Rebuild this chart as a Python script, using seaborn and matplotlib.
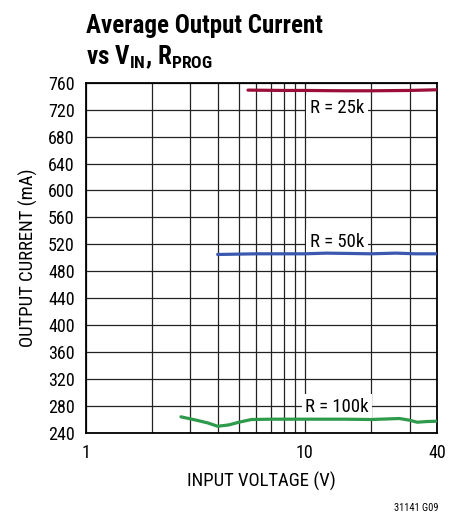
import numpy as np
import pandas as pd
import matplotlib
matplotlib.use("Agg")
import matplotlib.pyplot as plt
import seaborn as sns

# datos
v_25k = [5.5, 8, 10, 15, 20, 30, 40]
i_25k = [749, 748.5, 748.5, 748, 748, 748.5, 749.5]

v_50k = [4.0, 6, 8, 10, 12.5, 16, 20, 26, 32, 40]
i_50k = [505, 506, 506, 506, 507, 506.5, 506, 507, 506, 506]

v_100k = [2.72, 3.2, 3.6, 4.0, 4.5, 5.0, 5.7, 7, 10, 15, 20, 27, 30, 32.5, 36, 40]
i_100k = [264, 259, 255, 250, 252, 256, 260, 260.5, 260.5, 260.5, 260, 261.5, 259, 256, 257, 257.5]

series_names = ["R = 25k", "R = 50k", "R = 100k"]
series_colors = ["#9b0e3a", "#3a58b0", "#2e9a4c"]
label_pos = [(14, 723), (14, 523), (14, 279)]

y_ticks = list(range(240, 761, 40))
x_ticks = [1, 10, 40]

sns.set_style("white")
fams = ["Roboto Condensed", "Liberation Sans Narrow", "Liberation Sans", "DejaVu Sans"]
plt.rcParams["font.family"] = fams
plt.rcParams["mathtext.fontset"] = "custom"
plt.rcParams["mathtext.bf"] = "Roboto Condensed:bold"
plt.rcParams["mathtext.rm"] = "Roboto Condensed:bold"
for k in ["text.color", "axes.labelcolor", "xtick.color", "ytick.color"]:
    plt.rcParams[k] = "black"

df = pd.concat([
    pd.DataFrame({"V": v_25k, "I": i_25k, "R": series_names[0]}),
    pd.DataFrame({"V": v_50k, "I": i_50k, "R": series_names[1]}),
    pd.DataFrame({"V": v_100k, "I": i_100k, "R": series_names[2]}),
])

fig = plt.figure(figsize=(4.57, 5.14), dpi=100)
ax = fig.add_axes([0.1875, 0.1576, 0.7685, 0.6815])

for name, col in zip(series_names, series_colors):
    d = df[df["R"] == name]
    sns.lineplot(data=d, x="V", y="I", color=col, linewidth=2.3, ax=ax, zorder=3, sort=False)

ax.set_xscale("log")
ax.set_xlim(1, 40)
ax.set_ylim(240, 760)
ax.set_yticks(y_ticks)
ax.set_xticks(x_ticks)
ax.set_xticklabels([str(t) for t in x_ticks])
ax.xaxis.set_minor_formatter(matplotlib.ticker.NullFormatter())
ax.grid(True, which="both", axis="x", color="#222222", linewidth=0.9)
ax.grid(True, which="major", axis="y", color="#222222", linewidth=0.9)
ax.tick_params(axis="both", which="both", length=0, labelsize=13)
ax.tick_params(axis="y", pad=8)
ax.tick_params(axis="x", pad=8)
for s in ax.spines.values():
    s.set_color("black")
    s.set_linewidth(1.3)

ax.set_xlabel("INPUT VOLTAGE (V)", fontsize=13.5, labelpad=7)
ax.set_ylabel("OUTPUT CURRENT (mA)", fontsize=13.5, labelpad=7)

# etiquetas con fondo blanco sobre la rejilla, debajo de las curvas
for name, (lx, ly) in zip(series_names, label_pos):
    ax.text(lx, ly, name, fontsize=13.5, ha="center", va="center", zorder=2.5,
            bbox=dict(facecolor="white", edgecolor="none", pad=2.5))

fig.text(86 / 457, 1 - 33 / 514, "Average Output Current", fontsize=18,
         fontweight="bold", ha="left", va="baseline")
fig.text(86 / 457, 1 - 64 / 514, r"vs V$_\mathbf{IN}$, R$_\mathbf{PROG}$", fontsize=18,
         fontweight="bold", ha="left", va="baseline")
fig.text(438 / 457, 1 - 511 / 514, "31141 G09", fontsize=7.5, ha="right", va="baseline")

fig.savefig("out.png", dpi=100)
